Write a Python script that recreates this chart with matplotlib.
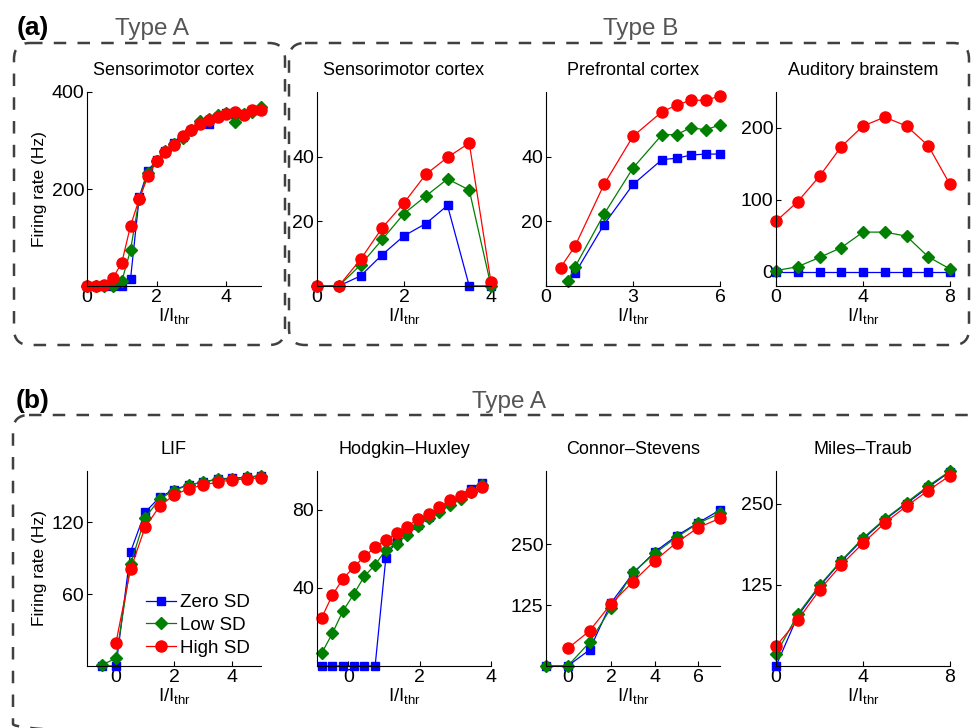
import matplotlib
matplotlib.use("Agg")
import matplotlib.pyplot as plt
from matplotlib.patches import FancyBboxPatch

plt.rcParams["font.family"] = ["Liberation Sans", "DejaVu Sans"]
plt.rcParams["mathtext.fontset"] = "custom"
plt.rcParams["mathtext.rm"] = "Liberation Sans"
plt.rcParams["mathtext.it"] = "Liberation Sans"

# ---- (a) Type A: sensorimotor cortex
sma_x = [0, 0.25, 0.5, 0.75, 1.0, 1.25, 1.5, 1.75, 2.0, 2.25, 2.5, 2.75, 3.0,
         3.25, 3.5, 3.75, 4.0, 4.25, 4.5, 4.75, 5.0]
sma_zero = [0, 0, 0, 0, 0, 14, 183, 238, 259, 279, 294, 308, 321, 336, 334, 348,
            357, 355, 354, 362, 362]
sma_low = [0, 0, 0, 0, 10, 74, 179, 234, 257, 279, 293, 305, 321, 340, 345, 352,
           357, 338, 355, 359, 369]
sma_high = [0, 0, 2, 17, 48, 124, 179, 226, 257, 277, 290, 310, 322, 333, 343, 348,
            355, 359, 352, 363, 362]

# ---- (a) Type B: sensorimotor cortex
smb_x = [0, 0.5, 1, 1.5, 2, 2.5, 3, 3.5, 4]
smb_zero = [0, 0, 3.1, 9.7, 15.5, 19.3, 24.9, 0, 0]
smb_low = [0, 0, 6.5, 14.4, 22.4, 27.8, 33.1, 29.7, 0]
smb_high = [0, 0, 8.2, 18, 25.7, 34.5, 39.8, 44.2, 1.1]

# ---- (a) Type B: prefrontal cortex
pfc_x_zero = [1, 2, 3, 4, 4.5, 5, 5.5, 6]
pfc_zero = [3.9, 19, 31.4, 39.1, 39.5, 40.5, 40.8, 40.8]
pfc_x_low = [0.75, 1, 2, 3, 4, 4.5, 5, 5.5, 6]
pfc_low = [1.5, 5.9, 22.2, 36.5, 46.8, 46.8, 49, 48.3, 49.8]
pfc_x_high = [0.5, 1, 2, 3, 4, 4.5, 5, 5.5, 6]
pfc_high = [5.7, 12.3, 31.4, 46.3, 53.9, 55.9, 57.5, 57.4, 58.8]

# ---- (a) Type B: auditory brainstem
ab_x = [0, 1, 2, 3, 4, 5, 6, 7, 8]
ab_zero = [0, 0, 0, 0, 0, 0, 0, 0, 0]
ab_low = [1.4, 6.9, 19.7, 33.4, 55, 55, 49.4, 20.6, 3.7]
ab_high = [70, 97.5, 132.7, 174, 202.7, 215, 202.7, 175.3, 121.3]

# ---- (b) LIF
lif_x = [-0.5, 0, 0.5, 1, 1.5, 2, 2.5, 3, 3.5, 4, 4.5, 5]
lif_zero = [0, 0, 95.3, 128.4, 141, 147.5, 151.4, 153.6, 156.4, 157, 157.8, 158.7]
lif_low = [0.8, 6.4, 85, 123.6, 139.6, 146.6, 151.4, 153.6, 156, 156.4, 157.8, 159.2]
lif_x_high = [0, 0.5, 1, 1.5, 2, 2.5, 3, 3.5, 4, 4.5, 5]
lif_high = [19.6, 80.7, 115.8, 133.4, 143, 148, 151.4, 153.6, 155.6, 156.4, 157.3]

# ---- (b) Hodgkin-Huxley
hh_x = [-0.75, -0.45, -0.15, 0.15, 0.45, 0.75, 1.05, 1.35, 1.65, 1.95, 2.25,
        2.55, 2.85, 3.15, 3.45, 3.75]
hh_zero = [0, 0, 0, 0, 0, 0, 55.3, 64.5, 68.5, 72.5, 76.5, 80, 84, 87, 91, 94]
hh_low = [6.5, 16.7, 28.3, 36.8, 46.1, 51.9, 59.6, 62.6, 67.4, 72, 75.9, 78.8,
          82.7, 85.6, 89, 92.9]
hh_high = [24.7, 36.3, 44.8, 50.7, 56.2, 60.9, 64.7, 68.1, 71.5, 75.4, 77.9,
           81.4, 85.1, 87, 89, 92]

# ---- (b) Connor-Stevens
cs_x = [-1, 0, 1, 2, 3, 4, 5, 6, 7]
cs_zero = [0, 0, 33, 130, 190, 234, 267, 294, 320]
cs_low = [0, 0, 48.5, 120, 192, 231, 264, 293, 313]
cs_x_high = [0, 1, 2, 3, 4, 5, 6, 7]
cs_high = [36, 72, 128, 173, 216, 253, 284, 303]

# ---- (b) Miles-Traub
mt_x = [0, 1, 2, 3, 4, 5, 6, 7, 8]
mt_zero = [0, 77, 122.4, 161, 195, 225, 250, 275, 299]
mt_low = [18, 79.6, 124, 162, 197, 226, 251.5, 277, 300]
mt_high = [30.6, 70.4, 117, 155.6, 189, 220, 246, 270, 293]

panels = [
    # title, (zero x,y), (low x,y), (high x,y), xlim, ylim, xticks, yticks
    ("Sensorimotor cortex", (sma_x, sma_zero), (sma_x, sma_low), (sma_x, sma_high),
     (0, 5), (0, 400), [0, 2, 4], [200, 400]),
    ("Sensorimotor cortex", (smb_x, smb_zero), (smb_x, smb_low), (smb_x, smb_high),
     (0, 4), (0, 60), [0, 2, 4], [20, 40]),
    ("Prefrontal cortex", (pfc_x_zero, pfc_zero), (pfc_x_low, pfc_low), (pfc_x_high, pfc_high),
     (0, 6), (0, 60), [0, 3, 6], [20, 40]),
    ("Auditory brainstem", (ab_x, ab_zero), (ab_x, ab_low), (ab_x, ab_high),
     (0, 8), (-20, 250), [0, 4, 8], [0, 100, 200]),
    ("LIF", (lif_x, lif_zero), (lif_x, lif_low), (lif_x_high, lif_high),
     (-1, 5), (0, 163), [0, 2, 4], [60, 120]),
    ("Hodgkin\u2013Huxley", (hh_x, hh_zero), (hh_x, hh_low), (hh_x, hh_high),
     (-0.88, 4), (0, 100), [0, 2, 4], [40, 80]),
    ("Connor\u2013Stevens", (cs_x, cs_zero), (cs_x, cs_low), (cs_x_high, cs_high),
     (-1, 7), (0, 400), [0, 2, 4, 6], [125, 250]),
    ("Miles\u2013Traub", (mt_x, mt_zero), (mt_x, mt_low), (mt_x, mt_high),
     (0, 8), (0, 300), [0, 4, 8], [125, 250]),
]

W, H = 976, 728
fig = plt.figure(figsize=(W / 100, H / 100), dpi=100)

# overlay in pixel units for the dashed group frames
bg = fig.add_axes([0, 0, 1, 1], zorder=-1)
bg.set_xlim(0, W)
bg.set_ylim(H, 0)
bg.axis("off")

def frame(x0, y0, x1, y1):
    p = FancyBboxPatch((x0, y0), x1 - x0, y1 - y0, boxstyle="round,pad=0,rounding_size=16",
                       fill=False, edgecolor="#404040", linewidth=1.8,
                       linestyle=(0, (5, 4.5)), clip_on=False)
    bg.add_patch(p)

frame(14, 43, 285, 345)
frame(289, 43, 969, 345)
frame(13, 415, 1000, 740)

bg.text(33, 28, "(a)", fontsize=19, fontweight="bold", ha="center", va="center")
bg.text(152, 29, "Type A", fontsize=17.5, color="#555555", ha="center", va="center")
bg.text(641, 29, "Type B", fontsize=17.5, color="#555555", ha="center", va="center")
bg.text(33, 401, "(b)", fontsize=19, fontweight="bold", ha="center", va="center")
bg.text(509, 402, "Type A", fontsize=17.5, color="#555555", ha="center", va="center")

lefts = [87, 317, 546, 776]
rows = [(92, 286), (471, 666)]

blue = "#0000ff"
green = "#007f00"
red = "#ff0000"

for i, (title, zero, low, high, xl, yl, xt, yt) in enumerate(panels):
    top, bot = rows[i // 4]
    left = lefts[i % 4]
    ax = fig.add_axes([left / W, 1 - bot / H, 174 / W, (bot - top) / H])
    ax.plot(zero[0], zero[1], "-s", color=blue, lw=0.9, ms=6, clip_on=False,
            label="Zero SD")
    ax.plot(low[0], low[1], "-D", color=green, lw=0.9, ms=6.5, clip_on=False,
            label="Low SD")
    ax.plot(high[0], high[1], "-o", color=red, lw=0.9, ms=8, clip_on=False,
            label="High SD")
    ax.set_xlim(*xl)
    ax.set_ylim(*yl)
    ax.set_xticks(xt)
    ax.set_yticks(yt)
    ax.spines["top"].set_visible(False)
    ax.spines["right"].set_visible(False)
    ax.tick_params(direction="in", length=3.5, width=0.8, labelsize=14, pad=2)
    ax.set_title(title, fontsize=13, pad=12)
    ax.set_xlabel("I/I$_{\\mathrm{thr}}$", fontsize=13.5, labelpad=0)
    if i % 4 == 0:
        ax.set_ylabel("Firing rate (Hz)", fontsize=12.5, labelpad=3)
    if i == 4:
        ax.legend(loc="lower right", bbox_to_anchor=(1.0, -0.01), frameon=False,
                  fontsize=13.5, handlelength=1.6, handletextpad=0.2, labelspacing=0.3,
                  borderpad=0.1)

fig.savefig("out.png", dpi=100)
